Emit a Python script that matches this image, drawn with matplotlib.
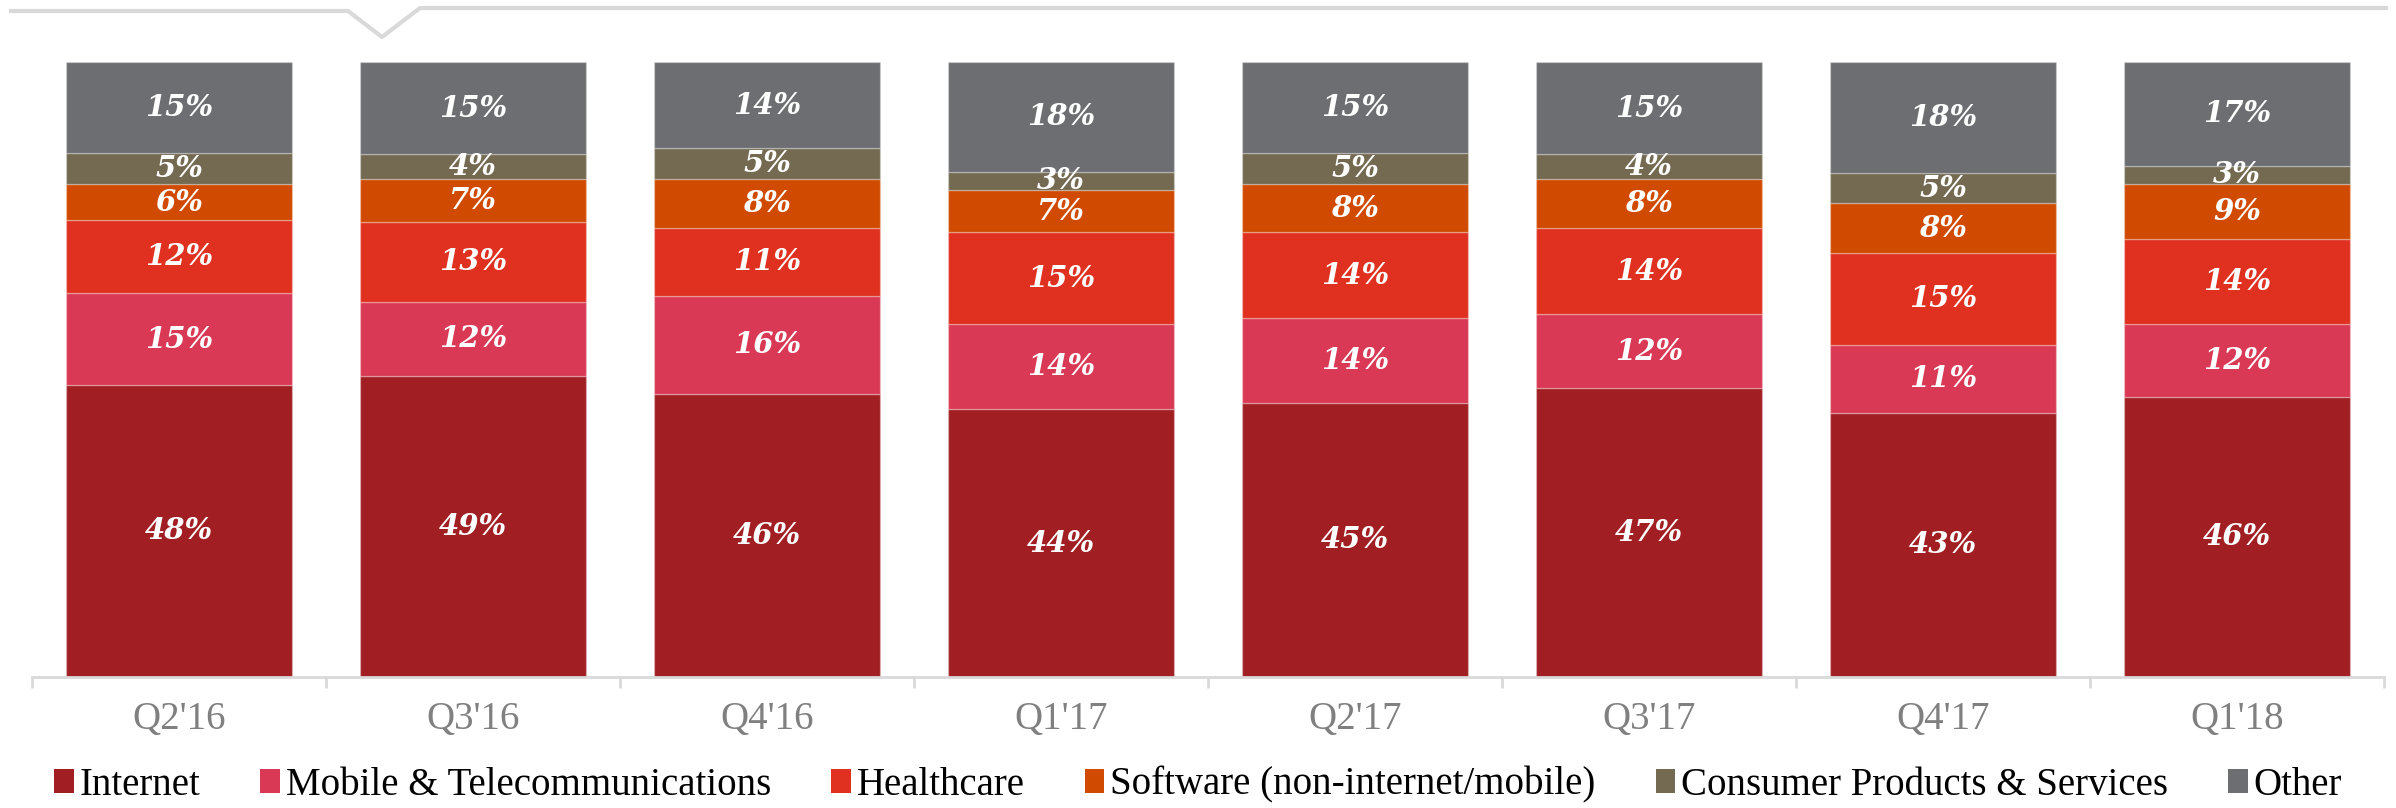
import matplotlib.pyplot as plt
from matplotlib.patches import Patch
from matplotlib.lines import Line2D
import numpy as np

quarters = ["Q2'16", "Q3'16", "Q4'16", "Q1'17", "Q2'17", "Q3'17", "Q4'17", "Q1'18"]
series = ["Internet", "Mobile & Telecommunications", "Healthcare",
          "Software (non-internet/mobile)", "Consumer Products & Services", "Other"]
internet = [48, 49, 46, 44, 45, 47, 43, 46]
mobile = [15, 12, 16, 14, 14, 12, 11, 12]
healthcare = [12, 13, 11, 15, 14, 14, 15, 14]
software = [6, 7, 8, 7, 8, 8, 8, 9]
consumer = [5, 4, 5, 3, 5, 4, 5, 3]
other = [15, 15, 14, 18, 15, 15, 18, 17]

colors = ['#A11F22', '#D93954', '#E03120', '#D04A02', '#736A51', '#6D6E71']

W, H = 2396, 808
fig = plt.figure(figsize=(W / 100, H / 100), dpi=100)
ax = fig.add_axes([32 / W, 1 - 677 / H, (2384 - 32) / W, (677 - 62) / H])

data = np.array([internet, mobile, healthcare, software, consumer, other], dtype=float)
totals = data.sum(axis=0)
shares = data / totals * 100  # 100% stacked

x = np.arange(len(quarters))
bottom = np.zeros(len(quarters))
for i in range(len(series)):
    ax.bar(x, shares[i], 0.77, bottom=bottom, color=colors[i],
           edgecolor=(1, 1, 1, 0.25), linewidth=1)
    for j in range(len(quarters)):
        ax.text(x[j], bottom[j] + shares[i][j] / 2, "%d%%" % data[i][j],
                ha='center', va='center', color='white', fontsize=21,
                family='DejaVu Serif', fontweight='bold', fontstyle='italic')
    bottom = bottom + shares[i]

ax.set_xlim(-0.5, len(quarters) - 0.5)
ax.set_ylim(0, 100)
ax.set_yticks([])
for s in ['top', 'right', 'left']:
    ax.spines[s].set_visible(False)
ax.spines['bottom'].set_color('#D9D9D9')
ax.spines['bottom'].set_linewidth(2)

ax.set_xticks(x)
ax.set_xticklabels(quarters, family='Liberation Serif', fontsize=28, color='#808080')
ax.tick_params(axis='x', which='major', length=0, pad=17)
ax.set_xticks(np.arange(-0.5, len(quarters)), minor=True)
ax.tick_params(axis='x', which='minor', length=8, width=2, color='#D9D9D9')

# decorative line with notch at the top
lx = np.array([11, 348, 382, 420, 2386])
ly = np.array([11, 11, 37, 8, 8])
fig.add_artist(Line2D(lx / W, 1 - ly / H, transform=fig.transFigure,
                      color='#D9D9D9', linewidth=3))

handles = [Patch(facecolor=c) for c in colors]
fig.legend(handles, series, loc='lower center', bbox_to_anchor=(0.5, -0.014), ncol=6,
           frameon=False, prop={'family': 'Liberation Serif', 'size': 28},
           handlelength=0.5, handleheight=0.55, handletextpad=0.15, columnspacing=1.55,
           borderaxespad=0)

fig.savefig('out.png', dpi=100)
